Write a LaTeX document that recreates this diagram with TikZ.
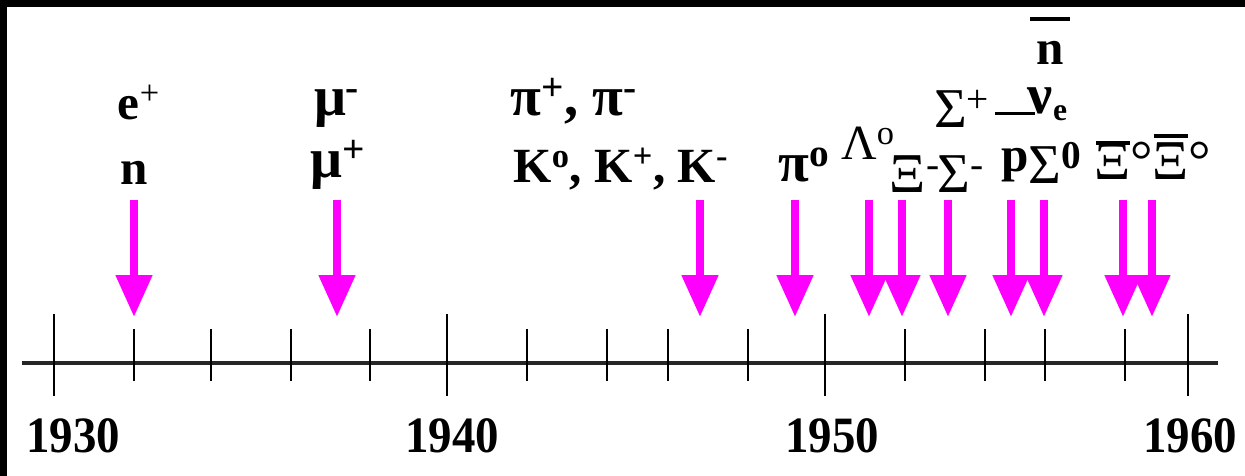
\documentclass[tikz,border=0pt]{standalone}
\usepackage{fontspec}
\setmainfont{Liberation Serif}
\newfontfamily\yearfont[FakeStretch=0.92]{Liberation Serif}
\usetikzlibrary{arrows.meta}
\definecolor{discmagenta}{RGB}{255,0,255}
\newcommand{\barabove}[3]{\ooalign{\hidewidth\raisebox{#1}{\rule{#2}{0.075em}}\hidewidth\cr#3\cr}}

\begin{document}
\begin{tikzpicture}[x=0.02cm, y=-0.02cm,
  lbl/.style={inner sep=0pt, anchor=base, font=\fontsize{28}{30}\selectfont\bfseries},
  greek/.style={inner sep=0pt, anchor=base, font=\fontsize{32}{34}\selectfont},
  yearlbl/.style={inner sep=0pt, anchor=base, font=\fontsize{29}{31}\selectfont\yearfont\bfseries},
  disc/.style={draw=discmagenta, line width=0.16cm, -{Triangle[length=0.84cm, width=0.7cm]}},
  axisline/.style={draw=black!85, line width=0.08cm},
  tick/.style={draw=black, line width=0.04cm}]
\useasboundingbox (0,0) rectangle (1245,476);
\fill[white] (0,0) rectangle (1245,476);
\fill[black] (0,0) rectangle (1245,7);
\fill[black] (0,0) rectangle (7,476);

% time axis
\coordinate (axisL) at (22,363);
\coordinate (axisR) at (1218,363);
\draw[axisline] (axisL) -- (axisR);
\foreach \x in {134,211,291,370,527,607,668,748,905,985,1045,1125}
  \draw[tick] (\x,329) -- (\x,381);
\foreach \x in {54,447,825,1188}
  \draw[tick] (\x,314) -- (\x,396);
\node[yearlbl] (y1930) at (73,452) {1930};
\node[yearlbl] (y1940) at (452,452) {1940};
\node[yearlbl] (y1950) at (832,452) {1950};
\node[yearlbl] (y1960) at (1190,452) {1960};

% particles
\node[lbl] (epos) at (139,120) {e\textsuperscript{\mdseries+}};
\node[lbl] (neut) at (134,185) {n};
\node[greek, font=\fontsize{32}{34}\selectfont\bfseries] (muminus) at (337,116) {μ\textsuperscript{-}};
\node[greek, font=\fontsize{32}{34}\selectfont\bfseries] (muplus) at (338,178) {μ\textsuperscript{+}};
\node[greek, font=\fontsize{32}{34}\selectfont\bfseries] (pions) at (574,116) {π\textsuperscript{+}, π\textsuperscript{-}};
\node[lbl] (kaons) at (621,183) {K\textsuperscript{o}, K\textsuperscript{+}, K\textsuperscript{-}};
\node[greek, font=\fontsize{32}{34}\selectfont\bfseries] (pizero) at (804,182) {π\textsuperscript{o}};
\node[greek, font=\fontsize{28}{30}\selectfont] (lambda) at (868,160) {Λ\textsuperscript{o}};
\node[greek] (ximinus) at (915,193) {Ξ\textsuperscript{-}};
\node[greek] (sigplus) at (962,128) {Σ\textsuperscript{+}};
\node[greek] (sigminus) at (961,193) {Σ\textsuperscript{-}};
\node[lbl] (pbar) at (1015,172) {\barabove{1.15em}{0.8em}{p}};
\node[lbl] (nbar) at (1050,65) {\barabove{0.9em}{0.8em}{n}};
\node[greek, font=\fontsize{32}{34}\selectfont\bfseries] (nue) at (1048,114) {ν\textsubscript{\fontsize{18}{20}\selectfont e}};
\node[greek] (sigzero) at (1055,184) {Σ\textsuperscript{\bfseries 0}};
\node[greek] (xibar) at (1124,180) {\barabove{0.62em}{0.6em}{Ξ}°};
\node[greek] (antixi) at (1182,180) {\barabove{0.74em}{0.6em}{Ξ}°};

% discovery arrows
\coordinate (eposTop) at (134,200);    \coordinate (eposTip) at (134,317);
\coordinate (muTop) at (337,200);      \coordinate (muTip) at (337,317);
\coordinate (kaonTop) at (700,200);    \coordinate (kaonTip) at (700,317);
\coordinate (pizeroTop) at (795,200);  \coordinate (pizeroTip) at (795,317);
\coordinate (lambdaTop) at (869,200);  \coordinate (lambdaTip) at (869,317);
\coordinate (xiTop) at (902,200);      \coordinate (xiTip) at (902,317);
\coordinate (sigTop) at (948,200);     \coordinate (sigTip) at (948,317);
\coordinate (pbarTop) at (1011,200);   \coordinate (pbarTip) at (1011,317);
\coordinate (sigzeroTop) at (1044,200);\coordinate (sigzeroTip) at (1044,317);
\coordinate (xibarTop) at (1123,200);  \coordinate (xibarTip) at (1123,317);
\coordinate (antixiTop) at (1152,200); \coordinate (antixiTip) at (1152,317);
\draw[disc] (eposTop) -- (eposTip);
\draw[disc] (muTop) -- (muTip);
\draw[disc] (kaonTop) -- (kaonTip);
\draw[disc] (pizeroTop) -- (pizeroTip);
\draw[disc] (lambdaTop) -- (lambdaTip);
\draw[disc] (xiTop) -- (xiTip);
\draw[disc] (sigTop) -- (sigTip);
\draw[disc] (pbarTop) -- (pbarTip);
\draw[disc] (sigzeroTop) -- (sigzeroTip);
\draw[disc] (xibarTop) -- (xibarTip);
\draw[disc] (antixiTop) -- (antixiTip);
\end{tikzpicture}
\end{document}
